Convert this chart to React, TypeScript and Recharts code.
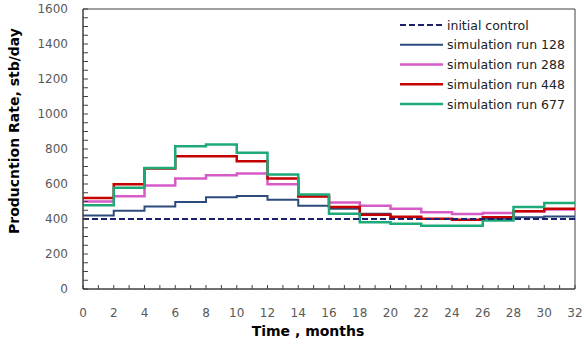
import React from 'react';
import { LineChart, Line, XAxis, YAxis, ReferenceArea } from 'recharts';

// step boundaries (months); the last point repeats the final step so it reaches 32
const MONTHS = [0, 2, 4, 6, 8, 10, 12, 14, 16, 18, 20, 22, 24, 26, 28, 30, 32];

const initialControl = [400, 400, 400, 400, 400, 400, 400, 400, 400, 400, 400, 400, 400, 400, 400, 400, 400];
const run128 = [420, 447, 472, 497, 524, 531, 510, 476, 458, 430, 410, 400, 395, 400, 410, 415, 415];
const run288 = [500, 530, 591, 631, 650, 660, 598, 532, 495, 476, 459, 439, 428, 434, 445, 455, 455];
const run448 = [520, 598, 688, 759, 759, 730, 631, 528, 469, 424, 413, 401, 396, 410, 444, 459, 459];
const run677 = [478, 578, 691, 816, 826, 778, 654, 540, 430, 382, 373, 361, 361, 392, 468, 491, 491];

const X_LABELS = [0, 2, 4, 6, 8, 10, 12, 14, 16, 18, 20, 22, 24, 26, 28, 30, 32];
const Y_LABELS = [0, 200, 400, 600, 800, 1000, 1200, 1400, 1600];

// minor tick marks: every month on x, every 50 on y
const X_TICKS = Array.from({ length: 33 }, (_, i) => i);
const Y_TICKS = Array.from({ length: 33 }, (_, i) => i * 50);

const SERIES = [
  { key: 'run128', name: 'simulation run 128', color: '#2C4A7C', width: 2, dash: undefined },
  { key: 'run288', name: 'simulation run 288', color: '#D65BC6', width: 2.5, dash: undefined },
  { key: 'run448', name: 'simulation run 448', color: '#C40000', width: 2.5, dash: undefined },
  { key: 'run677', name: 'simulation run 677', color: '#1DAA78', width: 2.5, dash: undefined },
  { key: 'initial', name: 'initial control', color: '#1B1F6E', width: 2, dash: '6 3' },
];

const LEGEND_ORDER = ['initial', 'run128', 'run288', 'run448', 'run677'];

const data = MONTHS.map((m, i) => ({
  month: m,
  initial: initialControl[i],
  run128: run128[i],
  run288: run288[i],
  run448: run448[i],
  run677: run677[i],
}));

const FONT = '"DejaVu Sans", sans-serif';
const AXIS = '#404040';

const XTick = (props: any) => {
  const { x, y, payload } = props;
  const v = payload.value;
  return (
    <g>
      <line x1={x} y1={y} x2={x} y2={y - 4} stroke={AXIS} strokeWidth={1} />
      {X_LABELS.includes(v) && (
        <text x={x} y={y + 19} textAnchor="middle" dy="0.71em" fontSize={12} fontFamily={FONT} fill="#595959">
          {v}
        </text>
      )}
    </g>
  );
};

const YTick = (props: any) => {
  const { x, y, payload } = props;
  const v = payload.value;
  return (
    <g>
      <line x1={x} y1={y} x2={x + 5} y2={y} stroke={AXIS} strokeWidth={1} />
      {Y_LABELS.includes(v) && (
        <text x={x - 15} y={y} textAnchor="end" dy="0.355em" fontSize={12} fontFamily={FONT} fill="#595959">
          {v}
        </text>
      )}
    </g>
  );
};

const YTitle = (props: any) => {
  const { viewBox } = props;
  const cx = viewBox.x + 14;
  const cy = viewBox.y + viewBox.height / 2 - 18;
  return (
    <text
      x={cx}
      y={cy}
      transform={`rotate(-90, ${cx}, ${cy})`}
      textAnchor="middle"
      dominantBaseline="central"
      fontSize={14}
      fontWeight="bold"
      fontFamily={FONT}
      fill="#000"
    >
      Producntion Rate, stb/day
    </text>
  );
};

const XTitle = (props: any) => {
  const { viewBox } = props;
  const cx = viewBox.x + viewBox.width / 2 - 21;
  const cy = viewBox.y + 42;
  return (
    <text x={cx} y={cy} textAnchor="middle" dominantBaseline="central" fontSize={14} fontWeight="bold" fontFamily={FONT} fill="#000">
      Time , months
    </text>
  );
};

const LegendBox = () => (
  <div style={{ position: 'absolute', left: 398, top: 15, width: 180, height: 100 }}>
    <svg width={180} height={100}>
      {LEGEND_ORDER.map((k, i) => {
        const s = SERIES.find((d) => d.key === k)!;
        const y = 10 + i * 19.75;
        return (
          <g key={k}>
            <line x1={2} x2={45} y1={y} y2={y} stroke={s.color} strokeWidth={s.width} strokeDasharray={s.dash} />
            <text x={49} y={y} dominantBaseline="central" fontSize={12.5} fontFamily={FONT} fill="#222">
              {s.name}
            </text>
          </g>
        );
      })}
    </svg>
  </div>
);

export default function App() {
  return (
    <div style={{ position: 'absolute', left: 0, top: 0, width: 584, height: 354, background: '#fff' }}>
      <LineChart width={584} height={354} data={data} margin={{ top: 9, right: 9, bottom: 0, left: 0 }}>
        <ReferenceArea x1={0} x2={32} y1={0} y2={1600} fill="none" stroke={AXIS} strokeWidth={1} />
        <XAxis
          dataKey="month"
          type="number"
          domain={[0, 32]}
          ticks={X_TICKS}
          interval={0}
          tick={<XTick />}
          tickSize={0}
          tickMargin={0}
          tickLine={false}
          height={65}
          axisLine={{ stroke: AXIS }}
          label={<XTitle />}
        />
        <YAxis
          type="number"
          domain={[0, 1600]}
          ticks={Y_TICKS}
          interval={0}
          tick={<YTick />}
          tickSize={0}
          tickMargin={0}
          tickLine={false}
          width={83}
          axisLine={{ stroke: AXIS }}
          label={<YTitle />}
        />
        {SERIES.map((s) => (
          <Line
            key={s.key}
            dataKey={s.key}
            name={s.name}
            type="stepAfter"
            stroke={s.color}
            strokeWidth={s.width}
            strokeDasharray={s.dash}
            dot={false}
            activeDot={false}
            isAnimationActive={false}
          />
        ))}
      </LineChart>
      <LegendBox />
    </div>
  );
}
